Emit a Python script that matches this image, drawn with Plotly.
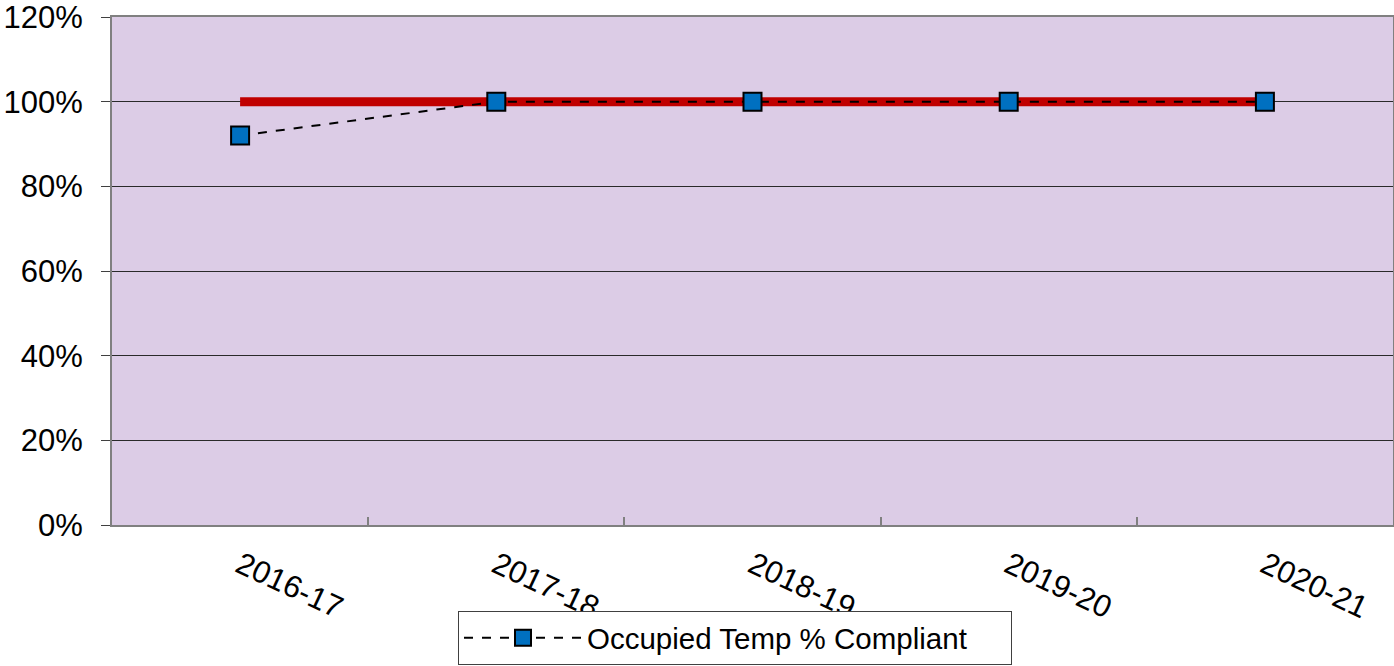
import plotly.graph_objects as go

categories = ["2016-17", "2017-18", "2018-19", "2019-20", "2020-21"]
compliant = [92, 100, 100, 100, 100]
target = [100, 100, 100, 100, 100]
y_ticks = [0, 20, 40, 60, 80, 100, 120]
y_tick_labels = ["0%", "20%", "40%", "60%", "80%", "100%", "120%"]

fig = go.Figure()
fig.add_trace(go.Scatter(
    x=categories, y=target, mode="lines",
    line=dict(color="#C00000", width=9),
    showlegend=False, hoverinfo="skip",
))
fig.add_trace(go.Scatter(
    x=categories, y=compliant, mode="lines+markers",
    name="Occupied Temp % Compliant",
    line=dict(color="black", width=2, dash="dash"),
    marker=dict(symbol="square", size=18, color="#0070C0",
                line=dict(color="black", width=2)),
))

fig.update_layout(
    width=1394, height=666,
    margin=dict(l=112, r=1, t=17, b=141),
    paper_bgcolor="white",
    plot_bgcolor="#DCCCE6",
    font=dict(family="Liberation Sans, Arial, sans-serif", color="black", size=31),
    showlegend=True,
    legend=dict(
        orientation="h", x=0.2701, xanchor="left", y=-0.2756, yanchor="bottom",
        bordercolor="#404040", borderwidth=1, bgcolor="white",
        font=dict(size=29.5), itemwidth=118, entrywidth=419,
    ),
    xaxis=dict(
        type="category", range=[-0.5, 4.5], automargin=False,
        tickangle=25, ticks="inside", tickson="boundaries", ticklen=8,
        tickcolor="#808080", tickwidth=2,
        showline=True, linecolor="#808080", linewidth=2, mirror=True,
        showgrid=False, tickfont=dict(size=31),
        ticklabelstandoff=8, ticklabeloverflow="allow",
    ),
    yaxis=dict(
        range=[0, 120], tickvals=y_ticks, ticktext=y_tick_labels, automargin=False,
        ticks="outside", ticklen=9, tickcolor="#404040", tickwidth=1,
        showline=True, linecolor="#808080", linewidth=2, mirror=True,
        showgrid=True, gridcolor="#2a2a2a", gridwidth=1,
        zeroline=False, tickfont=dict(size=31), ticklabelstandoff=12,
        ticklabeloverflow="allow",
    ),
)

fig.write_html(
    "out.html",
    config={"displayModeBar": False},
    post_script="document.body.style.margin='0';document.body.style.overflow='hidden';",
)
